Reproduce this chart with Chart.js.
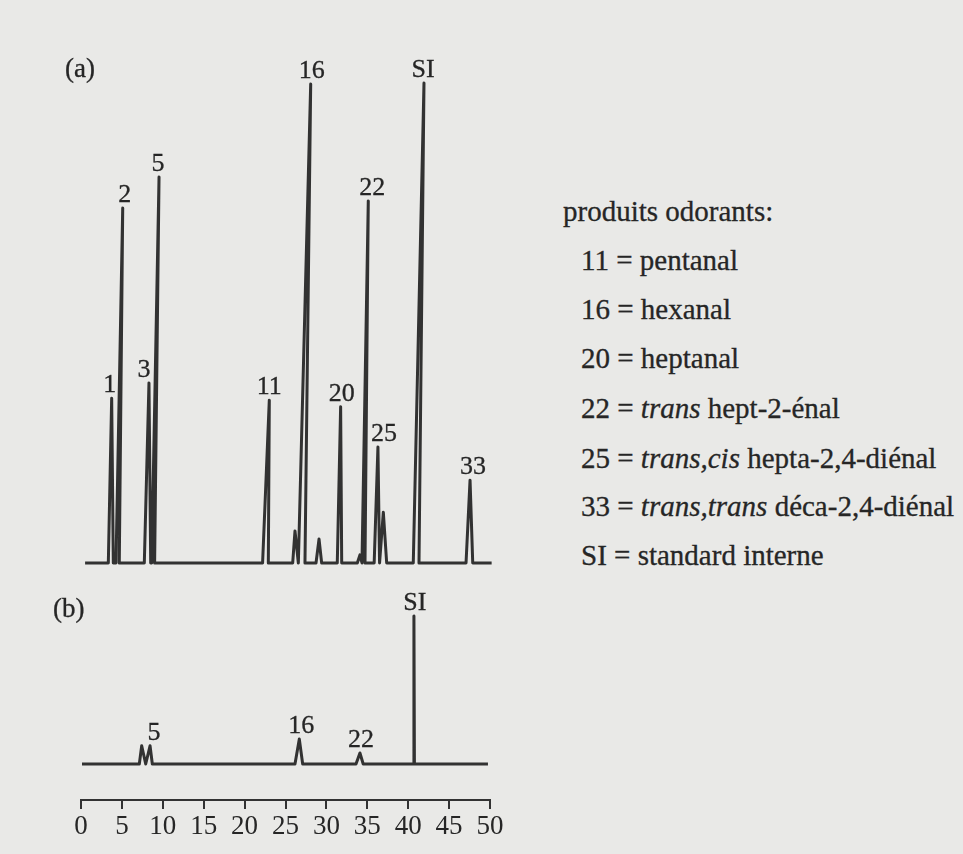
<!DOCTYPE html>
<html>
<head>
<meta charset="utf-8">
<script src="https://cdn.jsdelivr.net/npm/chart.js@4.4.1/dist/chart.umd.min.js"></script>
<style>
  html, body { margin: 0; padding: 0; background: #e9e9e7; }
  body { width: 963px; height: 854px; position: relative; overflow: hidden;
         font-family: 'Liberation Serif', 'Times New Roman', serif; color: #262626; }
  #wrap { position: absolute; left: 0; top: 0; width: 540px; height: 854px; }
  .t { position: absolute; white-space: nowrap; line-height: 1; -webkit-text-stroke: 0.3px #262626; }
</style>
</head>
<body>
<div id="wrap"><canvas id="c" width="540" height="854"></canvas></div>
<div class="t" style="left:65px; top:55px; font-size:27px;">(a)</div>
<div class="t" style="left:53px; top:595px; font-size:27px;">(b)</div>
<div id="legend"></div>

<script>
// ---------------- DATA ----------------
// Time axis (min) tick labels
const timeTicks = [0, 5, 10, 15, 20, 25, 30, 35, 40, 45, 50];

// Chromatogram (a): run limits and peaks (start, apex, end retention times; apex height, hexanal = 100)
const runA = [0.5, 50.2];
const peakNamesA  = ['1',  '2',  '3',  '5',  '11',  '',    '16',  '',    '20',  '',    '22',  '25',  '',    'SI',  '33'];
const peakStartA  = [3.34, 4.28, 7.74, 8.64, 22.20, 25.88, 26.57, 28.73, 31.33, 33.78, 34.35, 35.84, 36.50, 40.62, 47.07];
const peakApexA   = [3.75, 5.10, 8.31, 9.54, 23.02, 26.16, 28.08, 29.10, 31.74, 34.10, 35.12, 36.30, 36.96, 41.93, 47.56];
const peakEndA    = [3.95, 4.68, 8.52, 9.00, 22.90, 26.57, 27.38, 29.42, 31.87, 34.35, 34.72, 36.50, 37.37, 41.32, 47.89];
const peakHeightA = [34.4, 74.1, 37.6, 80.6, 34.0,  6.7,   100,   5.0,   32.6,  1.7,   75.6,  24.2,  10.6,  100.2, 17.3];

// Chromatogram (b)
const runB = [0.12, 49.75];
const peakNamesB  = ['',   '5',  '16',  '22',  'SI'];
const peakStartB  = [7.13, 7.91, 26.16, 33.62, 40.64];
const peakApexB   = [7.42, 8.44, 26.69, 34.10, 40.70];
const peakEndB    = [7.91, 8.72, 27.10, 34.50, 40.76];
const peakHeightB = [3.8,  3.8,  5.2,   2.3,   30.9];

// Legend (code, italic part, rest)
const legendTitle = 'produits odorants:';
const legendCodes   = ['11', '16', '20', '22', '25', '33', 'SI'];
const legendItalic  = ['', '', '', 'trans', 'trans,cis', 'trans,trans', ''];
const legendNames   = ['pentanal', 'hexanal', 'heptanal', 'hept-2-énal', 'hepta-2,4-diénal', 'déca-2,4-diénal', 'standard interne'];

// ---------------- LAYOUT (pixels) ----------------
const AREA_LEFT = 81, AREA_RIGHT = 490, AREA_TOP = 40, AREA_BOTTOM = 800;
const CANVAS_W = 540, CANVAS_H = 854, XAXIS_H = 54;
const PX_PER_UNIT = 4.79;
const BASE_A = 563, BASE_B = 764;
const labelDxA = [-2, 2, -5, -1, 0, 0, 1, 0, 1, 0, 4, 6, 0, -1, 3];
const labelDxB = [0, 4, 2, 1, 1];
const LABEL_GAP = 6;
const INK = '#262626', LINE = '#323232';

// ---------------- LEGEND ----------------
(function () {
  const lg = document.getElementById('legend');
  const fs = 29, baseToTop = 24.3;
  const title = document.createElement('div');
  title.className = 't';
  title.style.cssText = `left:563px; top:${221 - baseToTop}px; font-size:${fs}px;`;
  title.textContent = legendTitle;
  lg.appendChild(title);
  const baselines = [270, 319, 368, 418, 468, 516, 565];
  legendCodes.forEach((code, i) => {
    const d = document.createElement('div');
    d.className = 't';
    d.style.cssText = `left:581px; top:${baselines[i] - baseToTop}px; font-size:${fs}px;`;
    d.appendChild(document.createTextNode(code + ' = '));
    if (legendItalic[i]) {
      const it = document.createElement('i');
      it.textContent = legendItalic[i];
      d.appendChild(it);
      d.appendChild(document.createTextNode(' '));
    }
    d.appendChild(document.createTextNode(legendNames[i]));
    lg.appendChild(d);
  });
})();

// ---------------- CHART ----------------
function trace(run, starts, apexes, ends, heights) {
  const pts = [{ x: run[0], y: 0 }];
  for (let i = 0; i < starts.length; i++) {
    pts.push({ x: starts[i], y: 0 }, { x: apexes[i], y: heights[i] }, { x: ends[i], y: 0 });
  }
  pts.push({ x: run[1], y: 0 });
  return pts;
}

const panels = [
  { axis: 'yA', names: peakNamesA, apex: peakApexA, height: peakHeightA, dx: labelDxA },
  { axis: 'yB', names: peakNamesB, apex: peakApexB, height: peakHeightB, dx: labelDxB }
];

const peakLabels = {
  id: 'peakLabels',
  afterDatasetsDraw(chart) {
    const { ctx, scales } = chart;
    ctx.save();
    ctx.font = "26px 'Liberation Serif', serif";
    ctx.fillStyle = INK;
    ctx.strokeStyle = INK;
    ctx.lineWidth = 0.3;
    ctx.textAlign = 'center';
    ctx.textBaseline = 'alphabetic';
    panels.forEach(p => {
      const ys = scales[p.axis];
      p.names.forEach((n, i) => {
        if (!n) return;
        const px = scales.x.getPixelForValue(p.apex[i]) + p.dx[i];
        const py = ys.getPixelForValue(p.height[i]) - LABEL_GAP;
        ctx.fillText(n, px, py);
        ctx.strokeText(n, px, py);
      });
    });
    ctx.restore();
  }
};

const lineStyle = {
  borderColor: LINE, borderWidth: 3, pointRadius: 0, tension: 0,
  fill: false, clip: false, borderJoinStyle: 'round'
};

new Chart(document.getElementById('c'), {
  type: 'line',
  data: {
    datasets: [
      Object.assign({ label: '(a)', yAxisID: 'yA', data: trace(runA, peakStartA, peakApexA, peakEndA, peakHeightA) }, lineStyle),
      Object.assign({ label: '(b)', yAxisID: 'yB', data: trace(runB, peakStartB, peakApexB, peakEndB, peakHeightB) }, lineStyle)
    ]
  },
  options: {
    responsive: false,
    animation: false,
    devicePixelRatio: 1,
    layout: { padding: { left: AREA_LEFT, right: CANVAS_W - AREA_RIGHT, top: AREA_TOP, bottom: CANVAS_H - AREA_BOTTOM - XAXIS_H } },
    plugins: { legend: { display: false }, tooltip: { enabled: false }, title: { display: false } },
    scales: {
      x: {
        type: 'linear', position: 'bottom',
        min: timeTicks[0], max: timeTicks[timeTicks.length - 1],
        afterBuildTicks: (s) => { s.ticks = timeTicks.map(v => ({ value: v })); },
        afterFit: (s) => { s.height = XAXIS_H; },
        grid: { display: true, drawOnChartArea: false, drawTicks: true, tickLength: 9, color: LINE, lineWidth: 2 },
        border: { display: true, color: LINE, width: 2 },
        ticks: { color: INK, padding: 2, maxRotation: 0, autoSkip: false,
                 font: { family: "'Liberation Serif', serif", size: 27 } }
      },
      yA: {
        type: 'linear', display: false,
        min: -(AREA_BOTTOM - BASE_A) / PX_PER_UNIT, max: (BASE_A - AREA_TOP) / PX_PER_UNIT
      },
      yB: {
        type: 'linear', display: false,
        min: -(AREA_BOTTOM - BASE_B) / PX_PER_UNIT, max: (BASE_B - AREA_TOP) / PX_PER_UNIT
      }
    }
  },
  plugins: [peakLabels]
});
</script>
</body>
</html>
